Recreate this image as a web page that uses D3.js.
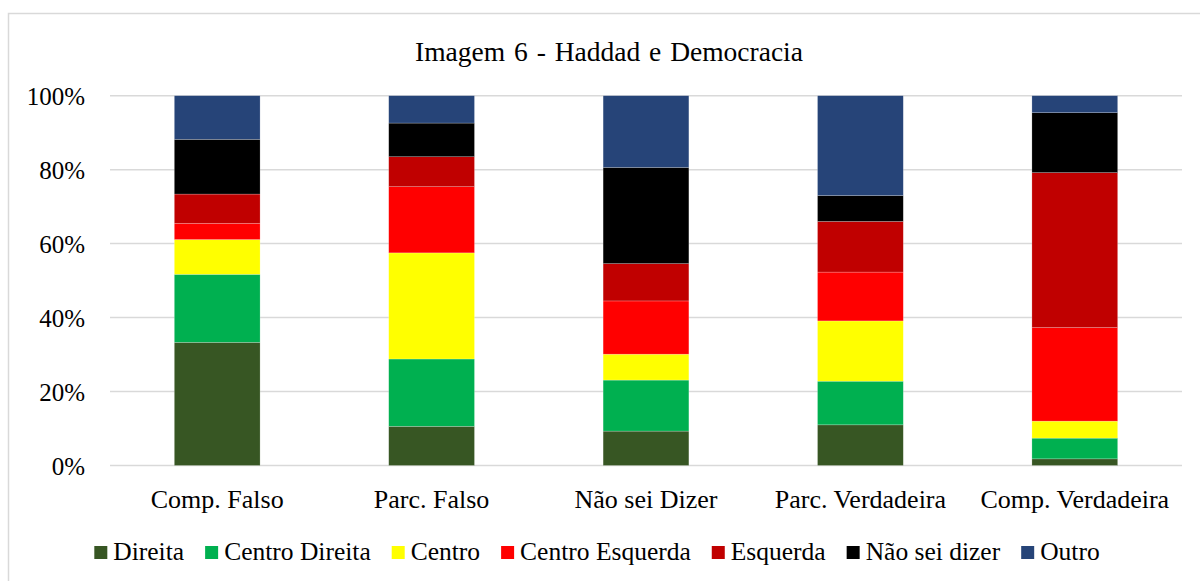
<!DOCTYPE html>
<html>
<head>
<meta charset="utf-8">
<script src="https://cdn.jsdelivr.net/npm/d3@7"></script>
<style>
  html, body { margin: 0; padding: 0; background: #fff; }
  svg { display: block; }
</style>
</head>
<body>
<svg id="chart" width="1200" height="581"></svg>
<script>
// Response categories (x axis)
const categories = ["Comp. Falso", "Parc. Falso", "Não sei Dizer", "Parc. Verdadeira", "Comp. Verdadeira"];

// Political self-placement series, stacked bottom to top (percent of each category)
const seriesNames = ["Direita", "Centro Direita", "Centro", "Centro Esquerda", "Esquerda", "Não sei dizer", "Outro"];
const direita        = [33.3, 10.6,  9.3, 11.0,  1.8];
const centroDireita  = [18.4, 18.2, 13.8, 11.8,  5.6];
const centro         = [ 9.4, 28.7,  7.0, 16.3,  4.6];
const centroEsquerda = [ 4.4, 17.9, 14.4, 13.2, 25.3];
const esquerda       = [ 7.9,  8.1, 10.1, 13.7, 41.9];
const naoSeiDizer    = [14.8,  9.1, 26.0,  7.0, 16.2];
const outro          = [11.8,  7.4, 19.4, 27.0,  4.6];

const seriesColors = ["#375623", "#00b050", "#ffff00", "#ff0000", "#c00000", "#000000", "#264478"];
const yTicks = [0, 20, 40, 60, 80, 100];
const title = "Imagem 6 - Haddad e Democracia";

const FONT = '"Liberation Serif", "Times New Roman", Times, serif';

const seriesValues = [direita, centroDireita, centro, centroEsquerda, esquerda, naoSeiDizer, outro];
const rows = categories.map((c, i) => {
  const r = { category: c };
  seriesNames.forEach((s, j) => { r[s] = seriesValues[j][i]; });
  return r;
});

const svg = d3.select("#chart");
const plot = { left: 110, right: 1182, top: 95.7, bottom: 465.5 };

// Outer chart border
svg.append("rect")
  .attr("x", 8.5).attr("y", 13.5)
  .attr("width", 1220).attr("height", 600)
  .attr("fill", "#fff")
  .attr("stroke", "#d9d9d9").attr("stroke-width", 1.5);

// Title
svg.append("text")
  .attr("x", 609).attr("y", 61)
  .attr("text-anchor", "middle")
  .style("font-family", FONT)
  .style("font-size", "27.5px")
  .style("word-spacing", "2px")
  .attr("fill", "#000")
  .text(title);

const x = d3.scaleBand().domain(categories).range([plot.left, plot.right]).paddingInner(0.6).paddingOuter(0.3);
const y = d3.scaleLinear().domain([0, 100]).range([plot.bottom, plot.top]);

// Gridlines
svg.append("g")
  .selectAll("line")
  .data(yTicks)
  .join("line")
  .attr("x1", plot.left).attr("x2", plot.right)
  .attr("y1", d => y(d)).attr("y2", d => y(d))
  .attr("stroke", "#d9d9d9").attr("stroke-width", 1.5);

// Y axis labels
const yAxis = d3.axisLeft(y).tickValues(yTicks).tickFormat(d => d + "%").tickSize(0).tickPadding(0);
const gy = svg.append("g").attr("transform", `translate(85,0)`).call(yAxis);
gy.select(".domain").remove();
gy.selectAll("text")
  .attr("dy", "0.34em")
  .style("font-family", FONT)
  .style("font-size", "25px").attr("fill", "#000");

// Stacked bars
const stack = d3.stack().keys(seriesNames);
const stacked = stack(rows);
svg.append("g")
  .selectAll("g")
  .data(stacked)
  .join("g")
  .attr("fill", (d, i) => seriesColors[i])
  .selectAll("rect")
  .data(d => d)
  .join("rect")
  .attr("x", d => x(d.data.category))
  .attr("width", x.bandwidth())
  .attr("y", d => y(d[1]))
  .attr("height", d => y(d[0]) - y(d[1]))
  .attr("stroke", "rgba(255,255,255,0.35)")
  .attr("stroke-width", 0.6);

// X axis labels
const xAxis = d3.axisBottom(x).tickSize(0).tickPadding(0);
const gx = svg.append("g").attr("transform", `translate(0,${plot.bottom})`).call(xAxis);
gx.select(".domain").remove();
gx.selectAll("text")
  .attr("y", 42).attr("dy", 0)
  .style("font-family", FONT)
  .style("font-size", "26px").attr("fill", "#000");

// Legend: swatch, small gap, label, wider gap before the next entry
const legend = svg.append("g");
const items = legend.selectAll("g").data(seriesNames).join("g");
items.append("rect")
  .attr("width", 13).attr("height", 13)
  .attr("y", 546)
  .attr("fill", (d, i) => seriesColors[i]);
items.append("text")
  .attr("x", 19).attr("y", 560)
  .style("font-family", FONT)
  .style("font-size", "25.5px")
  .attr("fill", "#000")
  .text(d => d);
let cursor = 0;
const positions = [];
items.each(function () {
  const w = d3.select(this).select("text").node().getComputedTextLength();
  positions.push(cursor);
  cursor += 19 + w + 21;
});
const total = cursor - 21;
const startX = 597 - total / 2;
items.attr("transform", (d, i) => `translate(${startX + positions[i]},0)`);
</script>
</body>
</html>
